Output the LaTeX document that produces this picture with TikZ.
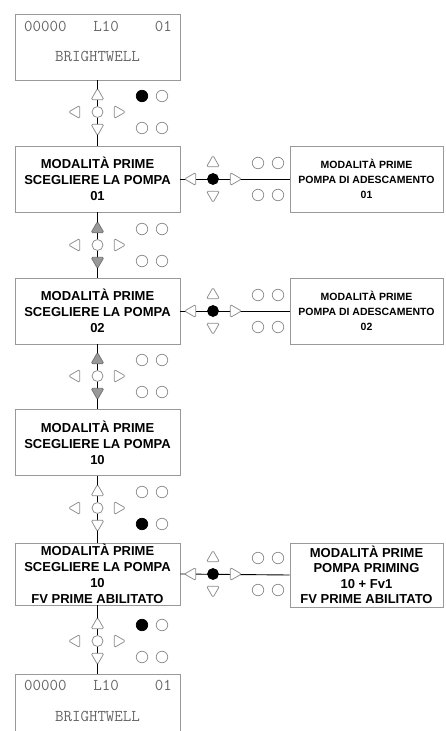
\documentclass[tikz,border=0pt]{standalone}
\usepackage{fontspec}
\setmainfont{Liberation Sans}
\usetikzlibrary{shapes.geometric}

\begin{document}
\begin{tikzpicture}[x=1pt,y=-1pt,
  box/.style={draw=black!40,line width=0.8pt,fill=white,minimum width=165pt,minimum height=66pt,
    inner sep=0pt,align=center,font=\fontsize{13}{16}\selectfont\bfseries},
  rbox/.style={box,minimum width=153pt,font=\fontsize{10.5}{15}\selectfont\bfseries},
  lcd/.style={draw=black!40,line width=0.8pt,fill=white,minimum width=165pt,minimum height=66pt},
  lcdtxt/.style={font=\fontsize{16.5}{18}\ttfamily,text=black!60,inner sep=0pt},
  key/.style={regular polygon,regular polygon sides=3,minimum size=15pt,inner sep=0pt,
    draw=black!45,line width=0.75pt,fill=white,rounded corners=1.5pt},
  keyg/.style={key,fill=black!40,draw=black!55},
  hub/.style={circle,minimum size=11pt,inner sep=0pt,draw=black!45,line width=0.75pt,fill=white},
  hubon/.style={hub,fill=black,draw=black},
  led/.style={circle,minimum size=11.5pt,inner sep=0pt,draw=black!45,line width=0.75pt,fill=white},
  ledon/.style={led,fill=black,draw=black},
  wire/.style={line width=0.9pt}]

\useasboundingbox (0,0) rectangle (446,731);
\clip (0,0) rectangle (446,731);

% --- display screens, left column ---
\node[lcd] (lcdA) at (97.5,47) {};
\node[lcdtxt,anchor=west] (lcdAl) at (24,26) {00000};
\node[lcdtxt] (lcdAm) at (106,26) {L10};
\node[lcdtxt,anchor=east] (lcdAr) at (172,26) {01};
\node[lcdtxt] (lcdAb) at (97.5,56) {BRIGHTWELL};

\node[box] (b1) at (97.5,179) {MODALITÀ PRIME\\SCEGLIERE LA POMPA\\01};
\node[box] (b2) at (97.5,311) {MODALITÀ PRIME\\SCEGLIERE LA POMPA\\02};
\node[box] (b3) at (97.5,442.5) {MODALITÀ PRIME\\SCEGLIERE LA POMPA\\10};
\node[box,minimum height=62pt] (b4) at (97.5,574) {MODALITÀ PRIME\\SCEGLIERE LA POMPA\\10\\FV PRIME ABILITATO};

\node[lcd] (lcdB) at (97.5,707) {};
\node[lcdtxt,anchor=west] (lcdBl) at (24,685) {00000};
\node[lcdtxt] (lcdBm) at (106,685) {L10};
\node[lcdtxt,anchor=east] (lcdBr) at (172,685) {01};
\node[lcdtxt] (lcdBb) at (97.5,716) {BRIGHTWELL};

% --- right column ---
\node[rbox] (r1) at (366.5,179) {MODALITÀ PRIME\\POMPA DI ADESCAMENTO\\01};
\node[rbox] (r2) at (366.5,311) {MODALITÀ PRIME\\POMPA DI ADESCAMENTO\\02};
\node[rbox,minimum height=64pt,font=\fontsize{13}{15.5}\selectfont\bfseries] (r4) at (366.5,575)
  {MODALITÀ PRIME\\POMPA PRIMING\\10 + Fv1\\FV PRIME ABILITATO};

% --- wires ---
\draw[wire] (lcdA.south) -- (b1.north);
\draw[wire] (b1.south) -- (b2.north);
\draw[wire] (b2.south) -- (b3.north);
\draw[wire] (b3.south) -- (b4.north);
\draw[wire] (b4.south) -- (lcdB.north);
\draw[wire] (b1.east) -- (r1.west);
\draw[wire] (b2.east) -- (r2.west);
\draw[wire] (b4.east) -- (r4.west);

% --- keypads on the vertical wire ---
\foreach \c/\kst/\la/\lb [count=\i] in {112/key/ledon/led, 245/keyg/led/led, 376/keyg/led/led,
    508/key/led/ledon, 641/key/ledon/led}{
  \node[\kst] (vu\i) at (97.5,\c-16) {};
  \node[\kst,rotate=180] (vd\i) at (97.5,\c+16) {};
  \node[key,rotate=90] (vl\i) at (76,\c) {};
  \node[key,rotate=-90] (vr\i) at (118,\c) {};
  \node[hub] (vh\i) at (97.5,\c) {};
  \node[\la] (vla\i) at (142,\c-16) {};
  \node[led] (vlb\i) at (162,\c-16) {};
  \node[\lb] (vlc\i) at (142,\c+16) {};
  \node[led] (vld\i) at (162,\c+16) {};
}

% --- keypads on the horizontal wires ---
\foreach \r [count=\i] in {179,311,574}{
  \node[key,rotate=90] (hl\i) at (192,\r) {};
  \node[key,rotate=-90] (hr\i) at (234,\r) {};
  \node[hubon] (hh\i) at (213,\r) {};
  \node[key] (hu\i) at (213,\r-16) {};
  \node[key,rotate=180] (hd\i) at (213,\r+16) {};
  \node[led] (hla\i) at (258,\r-16) {};
  \node[led] (hlb\i) at (278,\r-16) {};
  \node[led] (hlc\i) at (258,\r+16) {};
  \node[led] (hld\i) at (278,\r+16) {};
}
\end{tikzpicture}
\end{document}
